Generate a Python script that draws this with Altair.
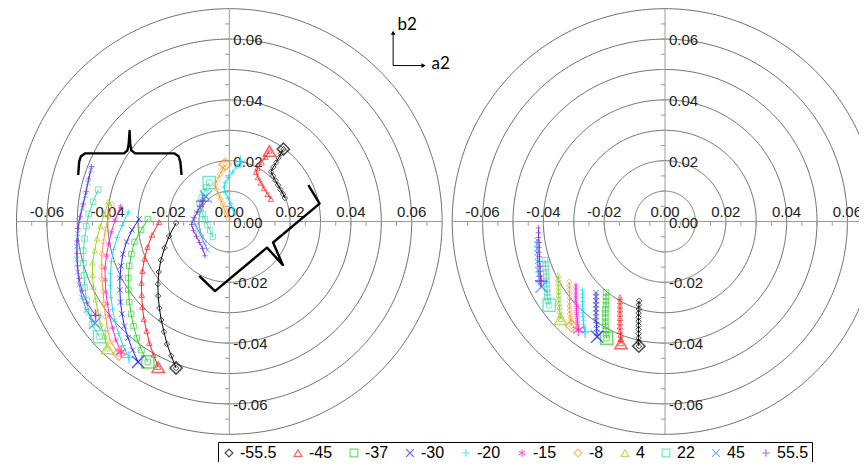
import numpy as np
import pandas as pd
import altair as alt

# ---------------- series definitions ----------------
SERIES = ["-55.5", "-45", "-37", "-30", "-20", "-15", "-8", "4", "22", "45", "55.5"]
COLORS = ["#000000", "#ff1f1f", "#2fd12f", "#1f1fff", "#12dff2", "#ff1fe0",
          "#ff9a2e", "#9fd12a", "#3fdcab", "#3a92ff", "#8a2bd6"]
SHAPES = ["diamond", "triangle-up", "square", "M-1,-1L1,1M-1,1L1,-1", "M-1,0L1,0M0,-1L0,1",
          "M0,-1L0,1M-0.87,-0.5L0.87,0.5M-0.87,0.5L0.87,-0.5",
          "diamond", "triangle-up", "square", "M-1,-1L1,1M-1,1L1,-1", "M-1,0L1,0M0,-1L0,1"]

# ---------------- left panel, outer arcs (a2, b2) ----------------
LO_A_N555 = [-0.0175, -0.0191, -0.0205, -0.0215, -0.0224, -0.0230, -0.0234, -0.0235, -0.0232, -0.0225, -0.0213, -0.0198, -0.0175]
LO_B_N555 = [-0.0482, -0.0442, -0.0403, -0.0363, -0.0324, -0.0285, -0.0245, -0.0206, -0.0166, -0.0127, -0.0087, -0.0048, -0.0005]
LO_A_N45 = [-0.0234, -0.0249, -0.0263, -0.0272, -0.0281, -0.0286, -0.0288, -0.0289, -0.0286, -0.0279, -0.0269, -0.0254, -0.0231]
LO_B_N45 = [-0.0479, -0.0439, -0.0400, -0.0360, -0.0321, -0.0281, -0.0242, -0.0202, -0.0163, -0.0123, -0.0084, -0.0044, -0.0002]
LO_A_N37 = [-0.0268, -0.0289, -0.0304, -0.0315, -0.0323, -0.0329, -0.0332, -0.0332, -0.0329, -0.0322, -0.0312, -0.0290, -0.0268]
LO_B_N37 = [-0.0462, -0.0423, -0.0383, -0.0344, -0.0304, -0.0265, -0.0225, -0.0186, -0.0146, -0.0107, -0.0067, -0.0028, 0.0008]
LO_A_N30 = [-0.0300, -0.0318, -0.0333, -0.0345, -0.0353, -0.0358, -0.0360, -0.0360, -0.0356, -0.0350, -0.0338, -0.0320, -0.0297]
LO_B_N30 = [-0.0462, -0.0423, -0.0383, -0.0344, -0.0304, -0.0265, -0.0225, -0.0186, -0.0146, -0.0107, -0.0067, -0.0028, 0.0008]
LO_A_N20 = [-0.0330, -0.0350, -0.0364, -0.0376, -0.0384, -0.0389, -0.0391, -0.0391, -0.0388, -0.0381, -0.0369, -0.0353, -0.0332]
LO_B_N20 = [-0.0447, -0.0408, -0.0368, -0.0329, -0.0289, -0.0250, -0.0211, -0.0171, -0.0132, -0.0092, -0.0053, -0.0013, 0.0031]
LO_A_N15 = [-0.0356, -0.0373, -0.0384, -0.0394, -0.0401, -0.0406, -0.0408, -0.0409, -0.0404, -0.0397, -0.0388, -0.0376, -0.0358]
LO_B_N15 = [-0.0429, -0.0390, -0.0350, -0.0311, -0.0271, -0.0232, -0.0192, -0.0153, -0.0113, -0.0074, -0.0035, 0.0005, 0.0049]
LO_A_N8 = [-0.0363, -0.0391, -0.0401, -0.0407, -0.0412, -0.0415, -0.0419, -0.0420, -0.0419, -0.0414, -0.0407, -0.0397, -0.0386]
LO_B_N8 = [-0.0436, -0.0395, -0.0354, -0.0313, -0.0271, -0.0230, -0.0189, -0.0148, -0.0107, -0.0066, -0.0025, 0.0016, 0.0058]
LO_A_P4 = [-0.0401, -0.0411, -0.0424, -0.0432, -0.0440, -0.0447, -0.0450, -0.0450, -0.0443, -0.0435, -0.0424, -0.0411, -0.0398]
LO_B_P4 = [-0.0418, -0.0378, -0.0337, -0.0297, -0.0257, -0.0216, -0.0176, -0.0136, -0.0096, -0.0056, -0.0015, 0.0025, 0.0065]
LO_A_P22 = [-0.0427, -0.0452, -0.0462, -0.0470, -0.0475, -0.0478, -0.0480, -0.0480, -0.0476, -0.0470, -0.0462, -0.0448, -0.0431]
LO_B_P22 = [-0.0379, -0.0338, -0.0298, -0.0258, -0.0217, -0.0177, -0.0137, -0.0096, -0.0056, -0.0015, 0.0025, 0.0065, 0.0105]
LO_A_P45 = [-0.0442, -0.0470, -0.0485, -0.0494, -0.0499, -0.0502, -0.0502, -0.0499, -0.0493, -0.0483, -0.0473, -0.0465, -0.0455]
LO_B_P45 = [-0.0334, -0.0292, -0.0250, -0.0208, -0.0166, -0.0124, -0.0082, -0.0040, 0.0002, 0.0044, 0.0086, 0.0127, 0.0169]
LO_A_P555 = [-0.0440, -0.0468, -0.0485, -0.0494, -0.0499, -0.0501, -0.0501, -0.0498, -0.0491, -0.0481, -0.0471, -0.0463, -0.0453]
LO_B_P555 = [-0.0309, -0.0268, -0.0228, -0.0187, -0.0146, -0.0105, -0.0064, -0.0023, 0.0017, 0.0058, 0.0099, 0.0140, 0.0181]

# ---------------- left panel, central curves ----------------
LC_A_N555 = [0.0178, 0.0170, 0.0162, 0.0154, 0.0145, 0.0137, 0.0144, 0.0152, 0.0160, 0.0168, 0.0177, 0.0183]
LC_B_N555 = [0.0238, 0.0224, 0.0209, 0.0194, 0.0179, 0.0164, 0.0150, 0.0135, 0.0120, 0.0105, 0.0090, 0.0077]
LC_A_N45 = [0.0132, 0.0119, 0.0106, 0.0093, 0.0088, 0.0094, 0.0104, 0.0114, 0.0126, 0.0137]
LC_B_N45 = [0.0232, 0.0212, 0.0194, 0.0176, 0.0163, 0.0145, 0.0127, 0.0109, 0.0090, 0.0074]
LC_A_N20 = [0.0037, 0.0024, 0.0011, -0.0003, -0.0014, -0.0017, -0.0013, -0.0004, 0.0004, 0.0012, 0.0019]
LC_B_N20 = [0.0197, 0.0181, 0.0163, 0.0145, 0.0127, 0.0113, 0.0095, 0.0077, 0.0059, 0.0041, 0.0025]
LC_A_N8 = [-0.0014, -0.0022, -0.0031, -0.0039, -0.0047, -0.0042, -0.0036, -0.0029, -0.0022, -0.0016, -0.0009, -0.0003]
LC_B_N8 = [0.0188, 0.0171, 0.0155, 0.0138, 0.0123, 0.0107, 0.0090, 0.0074, 0.0058, 0.0041, 0.0025, 0.0010]
LC_A_P22 = [-0.0066, -0.0075, -0.0083, -0.0091, -0.0098, -0.0095, -0.0088, -0.0080, -0.0072, -0.0063, -0.0054]
LC_B_P22 = [0.0128, 0.0112, 0.0095, 0.0079, 0.0061, 0.0043, 0.0025, 0.0007, -0.0012, -0.0030, -0.0051]
LC_A_P45 = [-0.0077, -0.0087, -0.0096, -0.0106, -0.0118, -0.0111, -0.0101, -0.0091, -0.0082, -0.0072]
LC_B_P45 = [0.0082, 0.0064, 0.0046, 0.0028, 0.0008, -0.0012, -0.0031, -0.0051, -0.0071, -0.0094]
LC_A_P555 = [-0.0087, -0.0096, -0.0106, -0.0116, -0.0124, -0.0118, -0.0108, -0.0098, -0.0088, -0.0080]
LC_B_P555 = [0.0067, 0.0049, 0.0031, 0.0012, -0.0010, -0.0030, -0.0049, -0.0069, -0.0089, -0.0113]

# ---------------- right panel streaks ----------------
R_A_P555 = [-0.0408, -0.0410, -0.0411, -0.0411, -0.0413, -0.0413, -0.0414, -0.0414, -0.0414, -0.0416, -0.0416, -0.0416]
R_B_P555 = [-0.0196, -0.0180, -0.0164, -0.0148, -0.0132, -0.0116, -0.0101, -0.0085, -0.0069, -0.0053, -0.0037, -0.0021]
R_A_P45 = [-0.0406, -0.0411, -0.0414, -0.0416, -0.0418, -0.0418, -0.0419, -0.0419, -0.0421, -0.0421, -0.0421, -0.0421]
R_B_P45 = [-0.0214, -0.0201, -0.0187, -0.0173, -0.0159, -0.0145, -0.0131, -0.0117, -0.0103, -0.0089, -0.0075, -0.0061]
R_A_P22 = [-0.0381, -0.0385, -0.0387, -0.0388, -0.0388, -0.0390, -0.0390, -0.0391, -0.0391, -0.0393, -0.0393, -0.0395]
R_B_P22 = [-0.0275, -0.0261, -0.0248, -0.0234, -0.0221, -0.0207, -0.0194, -0.0181, -0.0167, -0.0154, -0.0140, -0.0127]
R_A_P4 = [-0.0343, -0.0345, -0.0347, -0.0347, -0.0349, -0.0349, -0.0350, -0.0350, -0.0350, -0.0351, -0.0351, -0.0351]
R_B_P4 = [-0.0321, -0.0308, -0.0294, -0.0281, -0.0268, -0.0255, -0.0242, -0.0229, -0.0215, -0.0202, -0.0189, -0.0176]
R_A_N8 = [-0.0307, -0.0309, -0.0311, -0.0313, -0.0313, -0.0314, -0.0314, -0.0314, -0.0314, -0.0315, -0.0315, -0.0315]
R_B_N8 = [-0.0344, -0.0331, -0.0317, -0.0304, -0.0291, -0.0278, -0.0264, -0.0251, -0.0238, -0.0224, -0.0211, -0.0198]
R_A_N15 = [-0.0285, -0.0288, -0.0289, -0.0289, -0.0291, -0.0291, -0.0291, -0.0293, -0.0293, -0.0293, -0.0293, -0.0293]
R_B_N15 = [-0.0357, -0.0343, -0.0330, -0.0316, -0.0303, -0.0289, -0.0276, -0.0263, -0.0249, -0.0236, -0.0222, -0.0209]
R_A_N20 = [-0.0263, -0.0266, -0.0268, -0.0268, -0.0270, -0.0270, -0.0270, -0.0271, -0.0271, -0.0271, -0.0271, -0.0271]
R_B_N20 = [-0.0363, -0.0350, -0.0338, -0.0325, -0.0313, -0.0300, -0.0288, -0.0275, -0.0263, -0.0250, -0.0238, -0.0225]
R_A_N30 = [-0.0223, -0.0224, -0.0225, -0.0225, -0.0227, -0.0227, -0.0227, -0.0227, -0.0227, -0.0227, -0.0227, -0.0227]
R_B_N30 = [-0.0379, -0.0366, -0.0353, -0.0339, -0.0326, -0.0313, -0.0300, -0.0287, -0.0274, -0.0261, -0.0247, -0.0234]
R_A_N37 = [-0.0192, -0.0194, -0.0194, -0.0196, -0.0196, -0.0196, -0.0196, -0.0196, -0.0194, -0.0194, -0.0194, -0.0194]
R_B_N37 = [-0.0384, -0.0371, -0.0357, -0.0343, -0.0330, -0.0316, -0.0302, -0.0289, -0.0275, -0.0262, -0.0248, -0.0234]
R_A_N45 = [-0.0145, -0.0146, -0.0146, -0.0148, -0.0148, -0.0148, -0.0148, -0.0148, -0.0148, -0.0148, -0.0148, -0.0148]
R_B_N45 = [-0.0401, -0.0387, -0.0373, -0.0360, -0.0346, -0.0332, -0.0318, -0.0304, -0.0290, -0.0277, -0.0263, -0.0249]
R_A_N555 = [-0.0086, -0.0087, -0.0087, -0.0087, -0.0087, -0.0087, -0.0087, -0.0087, -0.0087, -0.0086, -0.0086, -0.0085]
R_B_N555 = [-0.0410, -0.0396, -0.0383, -0.0369, -0.0355, -0.0342, -0.0328, -0.0315, -0.0301, -0.0288, -0.0274, -0.0261]

# ---------------- axis tick labels / ticks / rings ----------------
LABEL_VALUES = [-0.06, -0.04, -0.02, 0.00, 0.02, 0.04, 0.06]
TICK_VALUES = [-0.065, -0.06, -0.055, -0.05, -0.045, -0.04, -0.035, -0.03, -0.025, -0.02, -0.015, -0.01, -0.005,
               0.005, 0.01, 0.015, 0.02, 0.025, 0.03, 0.035, 0.04, 0.045, 0.05, 0.055, 0.06, 0.065]
RING_RADII = [0.01, 0.02, 0.03, 0.04, 0.05, 0.06, 0.07]

# ---------------- annotations (left panel coordinates) ----------------
BRACE1_A = [-0.0497, -0.0494, -0.0488, -0.0475, -0.0346, -0.0335, -0.0331, -0.0328, -0.0326, -0.0322, -0.0310, -0.0180, -0.0167, -0.0161, -0.0157]
BRACE1_B = [0.0153, 0.0196, 0.0215, 0.0224, 0.0224, 0.0234, 0.0255, 0.0298, 0.0255, 0.0234, 0.0224, 0.0224, 0.0215, 0.0196, 0.0153]
BRACE2_A = [0.0260, 0.0297, 0.0144, 0.0176, 0.0124, -0.0047, -0.0099]
BRACE2_B = [0.0120, 0.0059, -0.0069, -0.0143, -0.0086, -0.0229, -0.0179]
ARROW_ORIGIN = (0.0539, 0.0513)
ARROW_TIPS = [(0.0539, 0.0621), (0.0639, 0.0513)]
ARROW_LABELS = ["b2", "a2"]
ARROW_LABEL_POS = [(0.0553, 0.0648), (0.0665, 0.0519)]

# ---------------- build tables ----------------
LEFT_OUTER = [("-55.5", LO_A_N555, LO_B_N555), ("-45", LO_A_N45, LO_B_N45), ("-37", LO_A_N37, LO_B_N37),
              ("-30", LO_A_N30, LO_B_N30), ("-20", LO_A_N20, LO_B_N20), ("-15", LO_A_N15, LO_B_N15),
              ("-8", LO_A_N8, LO_B_N8), ("4", LO_A_P4, LO_B_P4), ("22", LO_A_P22, LO_B_P22),
              ("45", LO_A_P45, LO_B_P45), ("55.5", LO_A_P555, LO_B_P555)]
LEFT_CENTER = [("-55.5", LC_A_N555, LC_B_N555), ("-45", LC_A_N45, LC_B_N45), ("-20", LC_A_N20, LC_B_N20),
               ("-8", LC_A_N8, LC_B_N8), ("22", LC_A_P22, LC_B_P22), ("45", LC_A_P45, LC_B_P45),
               ("55.5", LC_A_P555, LC_B_P555)]
RIGHT = [("-55.5", R_A_N555, R_B_N555), ("-45", R_A_N45, R_B_N45), ("-37", R_A_N37, R_B_N37),
         ("-30", R_A_N30, R_B_N30), ("-20", R_A_N20, R_B_N20), ("-15", R_A_N15, R_B_N15),
         ("-8", R_A_N8, R_B_N8), ("4", R_A_P4, R_B_P4), ("22", R_A_P22, R_B_P22),
         ("45", R_A_P45, R_B_P45), ("55.5", R_A_P555, R_B_P555)]


def series_table(groups, tag):
    rows = []
    for s, a, b in groups:
        for i, (av, bv) in enumerate(zip(a, b)):
            rows.append({"series": s, "grp": tag + s, "i": i, "a2": av, "b2": bv})
    return pd.DataFrame(rows)


left_df = pd.concat([series_table(LEFT_OUTER, "outer"), series_table(LEFT_CENTER, "center")], ignore_index=True)
right_df = series_table(RIGHT, "right")

ang = np.linspace(0, 2 * np.pi, 361)
rings_df = pd.DataFrame([{"r": r, "k": k, "cx": r * np.cos(t), "cy": r * np.sin(t)}
                         for r in RING_RADII for k, t in enumerate(ang)])
axes_df = pd.DataFrame({"x": [-0.07, 0.0], "x2": [0.07, 0.0], "y": [0.0, -0.07], "y2": [0.0, 0.07]})
TL = 0.0014
ticks_df = pd.DataFrame(
    [{"x": t, "x2": t, "y": 0.0, "y2": -TL} for t in TICK_VALUES] +
    [{"x": -TL, "x2": 0.0, "y": t, "y2": t} for t in TICK_VALUES])
xlab_df = pd.DataFrame({"v": LABEL_VALUES, "z": [0.0] * len(LABEL_VALUES),
                        "t": [f"{v:.2f}" for v in LABEL_VALUES]})
ylab_df = pd.DataFrame({"v": LABEL_VALUES, "z": [0.0] * len(LABEL_VALUES),
                        "t": [f"{v:.2f}" for v in LABEL_VALUES]})
brace_df = pd.DataFrame(
    [{"b": 1, "o": i, "a": a, "bb": b} for i, (a, b) in enumerate(zip(BRACE1_A, BRACE1_B))] +
    [{"b": 2, "o": i, "a": a, "bb": b} for i, (a, b) in enumerate(zip(BRACE2_A, BRACE2_B))])
arrow_df = pd.DataFrame({"x": [ARROW_ORIGIN[0]] * 2, "y": [ARROW_ORIGIN[1]] * 2,
                         "x2": [p[0] for p in ARROW_TIPS], "y2": [p[1] for p in ARROW_TIPS]})
arrow_head_up = pd.DataFrame({"x": [ARROW_TIPS[0][0]], "y": [ARROW_TIPS[0][1]]})
arrow_head_right = pd.DataFrame({"x": [ARROW_TIPS[1][0]], "y": [ARROW_TIPS[1][1]]})
arrow_txt = pd.DataFrame({"x": [p[0] for p in ARROW_LABEL_POS], "y": [p[1] for p in ARROW_LABEL_POS],
                          "t": ARROW_LABELS})

# ---------------- scales ----------------
XR = {"L": [8.5, 434.1], "R": [444.2, 869.8]}
YS = alt.Scale(domain=[-0.07, 0.07], range=[426.3, 0.7], nice=False, zero=False)

LEG = alt.Legend(title=None, orient="none", legendX=210, legendY=434, direction="horizontal",
                 strokeColor="black", fillColor="white", padding=3, symbolSize=60,
                 symbolStrokeWidth=1.2, labelFontSize=16, labelFont="Liberation Sans",
                 labelColor="black", columnPadding=13, labelOffset=3)
COLOR = alt.Color("series:N", scale=alt.Scale(domain=SERIES, range=COLORS), sort=SERIES, legend=LEG)
SHAPE = alt.Shape("series:N", scale=alt.Scale(domain=SERIES, range=SHAPES), sort=SERIES, legend=LEG)

GRID = "#6f6f6f"
AXIS = "#9a9a9a"
FONT = "Liberation Sans"


def panel(key, data, clip, extras=()):
    xs = alt.Scale(domain=[-0.07, 0.07], range=XR[key], nice=False, zero=False)

    def X(f):
        return alt.X(f, type="quantitative", scale=xs, axis=None)

    def Y(f):
        return alt.Y(f, type="quantitative", scale=YS, axis=None)

    rings = alt.Chart(rings_df).mark_line(color=GRID, strokeWidth=1, clip=clip).encode(
        x=X("cx"), y=Y("cy"), detail="r:N", order="k:Q")
    axes = alt.Chart(axes_df).mark_rule(color=AXIS, strokeWidth=1, clip=clip).encode(
        x=X("x"), x2="x2:Q", y=Y("y"), y2="y2:Q")
    ticks = alt.Chart(ticks_df).mark_rule(color=AXIS, strokeWidth=1, clip=clip).encode(
        x=X("x"), x2="x2:Q", y=Y("y"), y2="y2:Q")
    xlab = alt.Chart(xlab_df).mark_text(font=FONT, fontSize=15, color="#222", align="center",
                                        baseline="alphabetic", dy=-5, clip=clip).encode(
        x=X("v"), y=Y("z"), text="t:N")
    ylab = alt.Chart(ylab_df).mark_text(font=FONT, fontSize=15, color="#222", align="left",
                                        baseline="middle", dx=4, dy=1, clip=clip).encode(
        x=X("z"), y=Y("v"), text="t:N")
    layers = [rings, axes, ticks, xlab, ylab]
    for e in extras:
        layers.append(e(X, Y))
    # one line layer per series, coloured directly (keeps the legend to the point layers)
    for s, c in zip(SERIES, COLORS):
        sub = data[data.series == s]
        if len(sub):
            layers.append(alt.Chart(sub).mark_line(color=c, strokeWidth=1, clip=clip).encode(
                x=X("a2"), y=Y("b2"), detail="grp:N", order="i:Q"))
    pts = alt.Chart(data).mark_point(filled=False, size=30, strokeWidth=1, clip=clip).encode(
        x=X("a2"), y=Y("b2"), color=COLOR, shape=SHAPE)
    big = alt.Chart(data).transform_filter("datum.i == 0").mark_point(
        filled=False, size=150, strokeWidth=1.5, clip=clip).encode(
        x=X("a2"), y=Y("b2"), color=COLOR, shape=SHAPE)
    layers += [pts, big]
    return alt.layer(*layers)


def braces(X, Y):
    return alt.Chart(brace_df).mark_line(color="black", strokeWidth=2.4, strokeJoin="round").encode(
        x=X("a"), y=Y("bb"), detail="b:N", order="o:Q")


def arrows(X, Y):
    shafts = alt.Chart(arrow_df).mark_rule(color="black", strokeWidth=1).encode(
        x=X("x"), x2="x2:Q", y=Y("y"), y2="y2:Q")
    up = alt.Chart(arrow_head_up).mark_point(shape="triangle-up", filled=True, color="black",
                                             size=22, opacity=1).encode(x=X("x"), y=Y("y"))
    right = alt.Chart(arrow_head_right).mark_point(shape="triangle-right", filled=True, color="black",
                                                   size=22, opacity=1).encode(x=X("x"), y=Y("y"))
    txt = alt.Chart(arrow_txt).mark_text(font="Lato", fontSize=17, color="black", align="left",
                                         baseline="middle").encode(x=X("x"), y=Y("y"), text="t:N")
    return alt.layer(shafts, up, right, txt)


left = panel("L", left_df, False, extras=(braces, arrows))
right = panel("R", right_df, True)

chart = alt.layer(left, right).resolve_scale(x="independent").properties(
    width=851, height=454, padding=0, background="white",
    autosize=alt.AutoSizeParams(type="none")
).configure_view(stroke=None)

chart.save("out.html", embed_options={"renderer": "svg", "actions": False})
